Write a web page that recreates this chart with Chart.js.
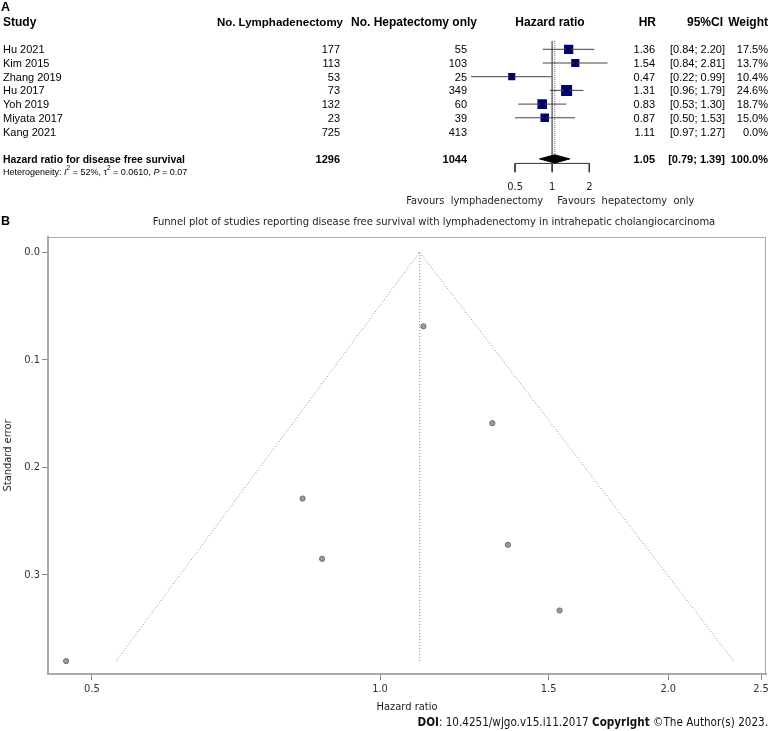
<!DOCTYPE html>
<html>
<head>
<meta charset="utf-8">
<script src="https://cdn.jsdelivr.net/npm/chart.js@4.4.0/dist/chart.umd.min.js"></script>
<style>
  html, body { margin: 0; padding: 0; background: #fff; }
  #wrap { position: relative; width: 771px; height: 731px; overflow: hidden; }
  #forest { position: absolute; left: 0; top: 0; }
  #funnel { position: absolute; left: 0; top: 216px; }
  .panel { position: absolute; font-family: "Liberation Sans", Arial, sans-serif; font-weight: bold; font-size: 12.5px; color: #000; }
  #funnelTitle { position: absolute; left: 134px; top: 215px; width: 600px; text-align: center; white-space: nowrap;
    font-family: "DejaVu Sans Condensed", sans-serif; font-size: 11.1px; color: #222; }
  #doi { position: absolute; right: 3px; top: 715px; white-space: nowrap;
    font-family: "DejaVu Sans Condensed", sans-serif; font-size: 11.6px; color: #111; }
</style>
</head>
<body>
<div id="wrap">
  <canvas id="forest" width="771" height="216"></canvas>
  <canvas id="funnel" width="771" height="515"></canvas>
  <div class="panel" style="left:1px;top:0px;">A</div>
  <div class="panel" style="left:1px;top:214px;">B</div>
  <div id="funnelTitle">Funnel plot of studies reporting disease free survival with lymphadenectomy in intrahepatic cholangiocarcinoma</div>
  <div id="doi"><b>DOI</b>: 10.4251/wjgo.v15.i11.2017 <b>Copyright</b> ©The Author(s) 2023.</div>
</div>
<script>
// study table
const studies = ['Hu 2021', 'Kim 2015', 'Zhang 2019', 'Hu 2017', 'Yoh 2019', 'Miyata 2017', 'Kang 2021'];
const nLymph = [177, 113, 53, 73, 132, 23, 725];
const nHep = [55, 103, 25, 349, 60, 39, 413];
const hr = [1.36, 1.54, 0.47, 1.31, 0.83, 0.87, 1.11];
const ciLow = [0.84, 0.84, 0.22, 0.96, 0.53, 0.50, 0.97];
const ciHigh = [2.20, 2.81, 0.99, 1.79, 1.30, 1.53, 1.27];
const weight = [17.5, 13.7, 10.4, 24.6, 18.7, 15.0, 0.0];

// pooled result
const pooledHR = 1.05;
const pooledLow = 0.79;
const pooledHigh = 1.39;
const totalLymph = 1296;
const totalHep = 1044;
const forestTicks = [0.5, 1, 2];

// funnel plot (standard error)
const stdErr = [0.272, 0.333, 0.380, 0.159, 0.229, 0.285, 0.069];
const funnelTicksX = [0.5, 1.0, 1.5, 2.0, 2.5];
const funnelTicksY = [0.0, 0.1, 0.2, 0.3];
const funnelEdgeX = [0.53, 1.10, 2.34];
const funnelEdgeY = [0.380, 0.0, 0.380];

const ARIAL = '"Liberation Sans", Arial, sans-serif';
const NARROW = '"DejaVu Sans Condensed", sans-serif';

// row layout of panel A (y scale value per line of the table)
const headerRow = -1.04, summaryRow = 9, hetRow = 9.92, axisRow = 9.33, tickEnd = 9.97, tickLabelRow = 11.02, favoursRow = 12.04;
const rowY = i => i + 1;

const fmt2 = v => v.toFixed(2);

// ---------- panel A: forest plot ----------
const forestSets = [];
studies.forEach((s, i) => {
  if (weight[i] <= 0) return;
  forestSets.push({
    type: 'line', data: [{ x: ciLow[i], y: rowY(i) }, { x: ciHigh[i], y: rowY(i) }],
    borderColor: '#444', borderWidth: 1, pointRadius: 0, order: 2
  });
});
forestSets.push({
  type: 'scatter',
  data: studies.map((s, i) => ({ x: hr[i], y: rowY(i) })).filter((p, i) => weight[i] > 0),
  pointStyle: 'rect',
  pointRadius: weight.filter(w => w > 0).map(w => 2.22 * Math.sqrt(w) / 1.414),
  backgroundColor: '#000080', borderWidth: 0, order: 3
});
forestSets.push({
  type: 'scatter',
  data: studies.map((s, i) => ({ x: hr[i], y: rowY(i) })).filter((p, i) => weight[i] > 0),
  pointStyle: 'cross', pointRadius: 2.5, borderColor: '#000', borderWidth: 1, order: 1
});
// reference line at 1 and dotted line at the pooled estimate
forestSets.push({
  type: 'line', data: [{ x: 1, y: 0.4 }, { x: 1, y: axisRow }],
  borderColor: '#777', borderWidth: 1, pointRadius: 0, order: 4
});
forestSets.push({
  type: 'line', data: [{ x: pooledHR, y: 0.4 }, { x: pooledHR, y: summaryRow - 0.3 }],
  borderColor: '#666', borderWidth: 1, borderDash: [1, 1], pointRadius: 0, order: 4
});
// pooled diamond
forestSets.push({
  type: 'line',
  data: [
    { x: pooledLow, y: summaryRow }, { x: pooledHR, y: summaryRow - 0.3 },
    { x: pooledHigh, y: summaryRow }, { x: pooledHR, y: summaryRow + 0.3 },
    { x: pooledLow, y: summaryRow }
  ],
  borderColor: '#000', borderWidth: 1, backgroundColor: '#000', fill: 'shape', pointRadius: 0, tension: 0, order: 0
});
// axis
forestSets.push({
  type: 'line', data: [{ x: forestTicks[0], y: axisRow }, { x: forestTicks[forestTicks.length - 1], y: axisRow }],
  borderColor: '#333', borderWidth: 1, pointRadius: 0, order: 4
});
forestTicks.forEach(t => {
  forestSets.push({
    type: 'line', data: [{ x: t, y: axisRow }, { x: t, y: tickEnd }],
    borderColor: '#333', borderWidth: 1, pointRadius: 0, order: 4
  });
});

const tablePlugin = {
  id: 'forestTable',
  afterDraw(chart) {
    const ctx = chart.ctx;
    const xs = chart.scales.x, ys = chart.scales.y;
    const Y = r => ys.getPixelForValue(r) + 1;
    const put = (t, x, r, align, font) => {
      ctx.font = font; ctx.textAlign = align; ctx.fillText(t, x, Y(r));
    };
    ctx.save();
    ctx.fillStyle = '#000';
    ctx.textBaseline = 'middle';
    const H = 'bold 12px ' + ARIAL, B = 'bold 11px ' + ARIAL, N = '11px ' + ARIAL;
    put('Study', 3, headerRow, 'left', H);
    put('No. Lymphadenectomy', 343, headerRow, 'right', 'bold 11.5px ' + ARIAL);
    put('No. Hepatectomy only', 477, headerRow, 'right', H);
    put('Hazard ratio', 550, headerRow, 'center', H);
    put('HR', 656, headerRow, 'right', H);
    put('95%CI', 723, headerRow, 'right', H);
    put('Weight', 768, headerRow, 'right', H);
    studies.forEach((s, i) => {
      const r = rowY(i);
      put(s, 3, r, 'left', N);
      put(String(nLymph[i]), 340, r, 'right', N);
      put(String(nHep[i]), 467, r, 'right', N);
      put(fmt2(hr[i]), 655, r, 'right', N);
      put('[' + fmt2(ciLow[i]) + '; ' + fmt2(ciHigh[i]) + ']', 725, r, 'right', N);
      put(weight[i].toFixed(1) + '%', 768, r, 'right', N);
    });
    put('Hazard ratio for disease free survival', 3, summaryRow, 'left', 'bold 10.4px ' + ARIAL);
    put(String(totalLymph), 340, summaryRow, 'right', B);
    put(String(totalHep), 467, summaryRow, 'right', B);
    put(fmt2(pooledHR), 655, summaryRow, 'right', B);
    put('[' + fmt2(pooledLow) + '; ' + fmt2(pooledHigh) + ']', 725, summaryRow, 'right', B);
    put('100.0%', 768, summaryRow, 'right', B);

    // heterogeneity line with italics and superscripts
    const parts = [
      ['Heterogeneity: ', 'n'], ['I', 'i'], ['2', 's'], [' = 52%, ', 'n'], ['\u03c4', 'n'], ['2', 's'],
      [' = 0.0610, ', 'n'], ['P', 'i'], [' = 0.07', 'n']
    ];
    let x = 3;
    const yh = Y(hetRow);
    ctx.textAlign = 'left';
    parts.forEach(([t, st]) => {
      ctx.font = st === 'i' ? 'italic 9px ' + ARIAL : st === 's' ? '6.5px ' + ARIAL : '9px ' + ARIAL;
      ctx.fillText(t, x, st === 's' ? yh - 4 : yh);
      x += ctx.measureText(t).width;
    });

    // forest axis tick labels and favour labels
    ctx.fillStyle = '#222';
    forestTicks.forEach(t => put(String(t), xs.getPixelForValue(t), tickLabelRow, 'center', '11px ' + NARROW));
    ctx.font = '11px ' + NARROW;
    ctx.textAlign = 'right';
    ctx.fillText('Favours  lymphadenectomy', xs.getPixelForValue(1) - 9, Y(favoursRow));
    ctx.textAlign = 'left';
    ctx.fillText('Favours  hepatectomy  only', xs.getPixelForValue(1) + 5, Y(favoursRow));
    ctx.restore();
  }
};

new Chart(document.getElementById('forest'), {
  type: 'scatter',
  data: { datasets: forestSets },
  options: {
    responsive: false, animation: false,
    layout: { padding: { left: 466, right: 160, top: 8.2, bottom: 1.9 } },
    plugins: { legend: { display: false }, tooltip: { enabled: false } },
    scales: {
      x: { type: 'logarithmic', min: 0.2, max: 3.0, display: false },
      y: { type: 'linear', min: -2, max: 12.6, reverse: true, display: false }
    }
  },
  plugins: [tablePlugin]
});

// ---------- panel B: funnel plot ----------
const boxPlugin = {
  id: 'box',
  afterDraw(chart) {
    const { left, top, right, bottom } = chart.chartArea;
    const ctx = chart.ctx;
    ctx.save();
    ctx.strokeStyle = '#aaa';
    ctx.lineWidth = 1;
    ctx.strokeRect(left + 0.5, top + 0.5, right - left - 1, bottom - top - 1);
    ctx.restore();
  }
};

new Chart(document.getElementById('funnel'), {
  type: 'scatter',
  data: {
    datasets: [
      {
        data: hr.map((v, i) => ({ x: v, y: stdErr[i] })),
        pointRadius: 2.6, backgroundColor: '#9a9a9a', borderColor: '#6e6e6e', borderWidth: 1, order: 1
      },
      {
        type: 'line', data: funnelEdgeX.map((v, i) => ({ x: v, y: funnelEdgeY[i] })),
        borderColor: '#888', borderWidth: 1, borderDash: [1, 2], pointRadius: 0, fill: false, order: 2
      },
      {
        type: 'line', data: [{ x: funnelEdgeX[1], y: funnelEdgeY[1] }, { x: funnelEdgeX[1], y: funnelEdgeY[0] }],
        borderColor: '#888', borderWidth: 1, borderDash: [1, 2], pointRadius: 0, fill: false, order: 2
      }
    ]
  },
  options: {
    responsive: false, animation: false,
    layout: { padding: { left: 0, right: 1, top: 21, bottom: 0 } },
    plugins: { legend: { display: false }, tooltip: { enabled: false } },
    scales: {
      x: {
        type: 'logarithmic', min: 0.45, max: 2.53,
        afterBuildTicks: s => { s.ticks = funnelTicksX.map(v => ({ value: v })); },
        afterFit: s => { s.height = 57; s.paddingLeft = 0; s.paddingRight = 0; },
        ticks: { callback: v => Number(v).toFixed(1), color: '#333', font: { family: NARROW, size: 11 }, padding: 3, maxRotation: 0, autoSkip: false },
        grid: { drawOnChartArea: false, drawTicks: true, tickLength: 6, color: '#888' },
        border: { color: '#aaa', width: 2 },
        title: { display: true, text: 'Hazard ratio', color: '#222', font: { family: NARROW, size: 11 }, padding: { top: 0, bottom: 17 } }
      },
      y: {
        type: 'linear', min: -0.014, max: 0.392, reverse: true,
        afterBuildTicks: s => { s.ticks = funnelTicksY.map(v => ({ value: v })); },
        afterFit: s => { s.width = 48; s.paddingTop = 0; s.paddingBottom = 0; },
        ticks: { callback: v => Number(v).toFixed(1), color: '#333', font: { family: NARROW, size: 11 }, padding: 2 },
        grid: { drawOnChartArea: false, drawTicks: true, tickLength: 6, color: '#888' },
        border: { color: '#aaa', width: 2 },
        title: { display: true, text: 'Standard error', color: '#222', font: { family: NARROW, size: 11 }, padding: { top: 2, bottom: 0 } }
      }
    }
  },
  plugins: [boxPlugin]
});
</script>
</body>
</html>
